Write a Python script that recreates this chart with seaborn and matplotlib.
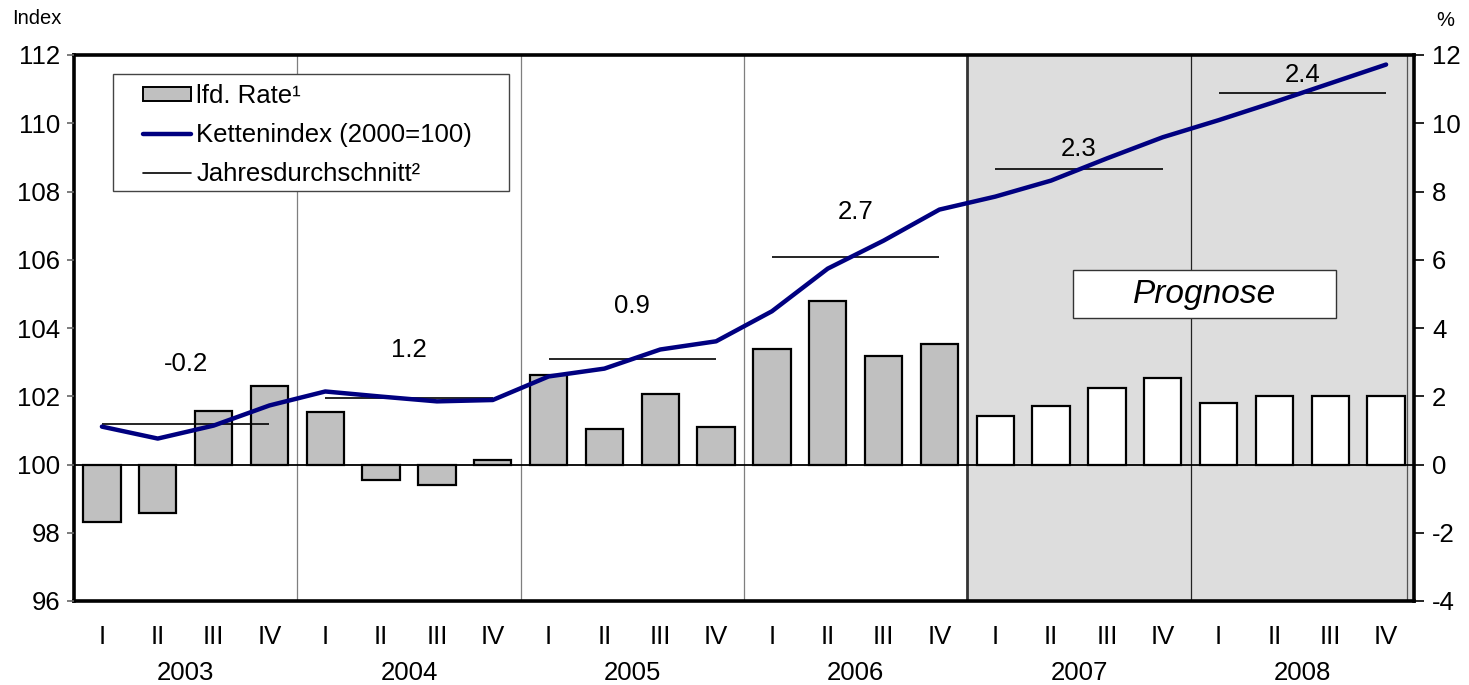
import numpy as np
import pandas as pd
import matplotlib
matplotlib.use("Agg")
import matplotlib.pyplot as plt
import matplotlib.transforms as mtransforms
from matplotlib.patches import Patch, Rectangle
from matplotlib.lines import Line2D
import seaborn as sns

# ---------------- data ----------------
years = ["2003", "2004", "2005", "2006", "2007", "2008"]
quarters = ["I", "II", "III", "IV"]
rate = [-1.69, -1.42, 1.56, 2.31,
        1.54, -0.44, -0.60, 0.12,
        2.61, 1.05, 2.08, 1.09,
        3.39, 4.78, 3.18, 3.54,
        1.41, 1.72, 2.23, 2.53,
        1.81, 2.01, 2.01, 2.01]
index = [101.11, 100.76, 101.14, 101.73,
         102.14, 101.99, 101.85, 101.89,
         102.58, 102.81, 103.37, 103.61,
         104.49, 105.74, 106.56, 107.47,
         107.85, 108.32, 108.97, 109.59,
         110.09, 110.62, 111.17, 111.72]
annual_avg = [101.18, 101.96, 103.09, 106.07, 108.67, 110.90]
annual_rate = ["-0.2", "1.2", "0.9", "2.7", "2.3", "2.4"]
label_y = [102.95, 103.35, 104.64, 107.41, 109.26, 111.40]
phase = ["Ist"] * 16 + ["Prognose"] * 8

sns.set_style("white")
plt.rcParams["font.family"] = ["Liberation Sans", "DejaVu Sans"]
plt.rcParams["axes.unicode_minus"] = False
plt.rcParams["text.color"] = "black"
plt.rcParams["xtick.color"] = "black"
plt.rcParams["ytick.color"] = "black"
plt.rcParams["xtick.labelcolor"] = "black"
plt.rcParams["ytick.labelcolor"] = "black"

n = len(rate)
df = pd.DataFrame({"pos": np.arange(n), "rate": rate, "index": index, "phase": phase})

W, H = 1469, 685
fig = plt.figure(figsize=(W / 100, H / 100), dpi=100)
L, R, T, B = 74, 1414, 55, 601
ax = fig.add_axes([L / W, 1 - B / H, (R - L) / W, (B - T) / H])

FS = 18.5

# shaded forecast region
ax.axvspan(15.5, n - 0.5, color="#DDDDDD", zorder=0, lw=0)
# year separators
for k in range(1, len(years)):
    xb = 4 * k - 0.5
    if k == 4:
        ax.axvline(xb, color="#333333", lw=2.0, zorder=0.6)
    elif k == 5:
        ax.axvline(xb, color="#222222", lw=0.9, zorder=0.6)
    else:
        ax.axvline(xb, color="#7f7f7f", lw=0.9, zorder=0.6)
ax.axvline(n - 0.62, color="#555555", lw=0.9, zorder=0.6)

sns.barplot(data=df, x="pos", y="rate", hue="phase",
            palette={"Ist": "#C0C0C0", "Prognose": "#FFFFFF"},
            dodge=False, width=0.67, edgecolor="black", linewidth=1.6,
            legend=False, ax=ax, zorder=2)
ax.axhline(0, color="black", lw=1.3, zorder=2.5)

ax.set_xlim(-0.5, n - 0.5)
ax.set_ylim(-4, 12)
ax.set_yticks(np.arange(-4, 13, 2))
ax.set_xticks(np.arange(n))
ax.set_xticklabels(quarters * len(years), fontsize=FS)
ax.tick_params(axis="x", length=0, pad=17)
ax.set_xlabel("")
ax.set_ylabel("")

for k, yr in enumerate(years):
    ax.text(4 * k + 1.5, -0.132, yr, ha="center", va="center", fontsize=FS,
            transform=mtransforms.blended_transform_factory(ax.transData, ax.transAxes))

for s in ax.spines.values():
    s.set_linewidth(2.6)
    s.set_color("black")

# ---------- index line on left axis ----------
ax2 = ax.twinx()
ax.yaxis.tick_right()
ax.tick_params(axis="y", which="major", right=True, left=False, length=7,
               width=1.2, pad=6, labelsize=FS, color="black")
ax2.yaxis.tick_left()
ax2.set_ylim(96, 112)
ax2.set_yticks(np.arange(96, 113, 2))
ax2.tick_params(axis="y", left=True, right=False, length=5, width=1.2, pad=5,
                labelsize=FS, color="#666666")
sns.lineplot(data=df, x="pos", y="index", color="#000080", lw=3.2, ax=ax2, zorder=4)
ax2.set_xlim(-0.5, n - 0.5)
ax2.set_xlabel("")
ax2.set_ylabel("")
for s in ax2.spines.values():
    s.set_visible(False)

for k in range(len(years)):
    ax2.hlines(annual_avg[k], 4 * k, 4 * k + 3, color="black", lw=1.2, zorder=3)
    ax2.text(4 * k + 1.5, label_y[k], annual_rate[k], ha="center", va="center",
             fontsize=FS)

# Prognose box
ax2.add_patch(Rectangle(((1073 - L) / (R - L), (B - 318) / (B - T)),
                        263 / (R - L), 48 / (B - T), transform=ax2.transAxes,
                        facecolor="white", edgecolor="#333333", lw=1.0, zorder=5))
ax2.text(((1073 + 1336) / 2 - L) / (R - L), (B - 294) / (B - T), "Prognose",
         transform=ax2.transAxes, ha="center", va="center", fontsize=24,
         style="italic", zorder=6)

# legend (frame drawn separately)
ax2.add_patch(Rectangle(((113 - L) / (R - L), (B - 191) / (B - T)),
                        396 / (R - L), 117 / (B - T), transform=ax2.transAxes,
                        facecolor="white", edgecolor="#444444", lw=1.0, zorder=6))
handles = [Patch(facecolor="#C0C0C0", edgecolor="black", lw=1.4),
           Line2D([], [], color="#000080", lw=3.2),
           Line2D([], [], color="black", lw=1.2)]
labels = ["lfd. Rate¹", "Kettenindex (2000=100)", "Jahresdurchschnitt²"]
leg = ax2.legend(handles, labels, loc="upper left",
                 bbox_to_anchor=((143 - L) / (R - L), (B - 84) / (B - T)),
                 fontsize=FS, frameon=False, handlelength=1.87, handleheight=0.5,
                 handletextpad=0.2, labelspacing=0.58, borderpad=0,
                 borderaxespad=0)
leg.set_zorder(7)

fig.text(12 / W, 1 - 18 / H, "Index", ha="left", va="center", fontsize=14.5)
fig.text(1445 / W, 1 - 21 / H, "%", ha="center", va="center", fontsize=14.5)

fig.savefig("out.png", dpi=100)
